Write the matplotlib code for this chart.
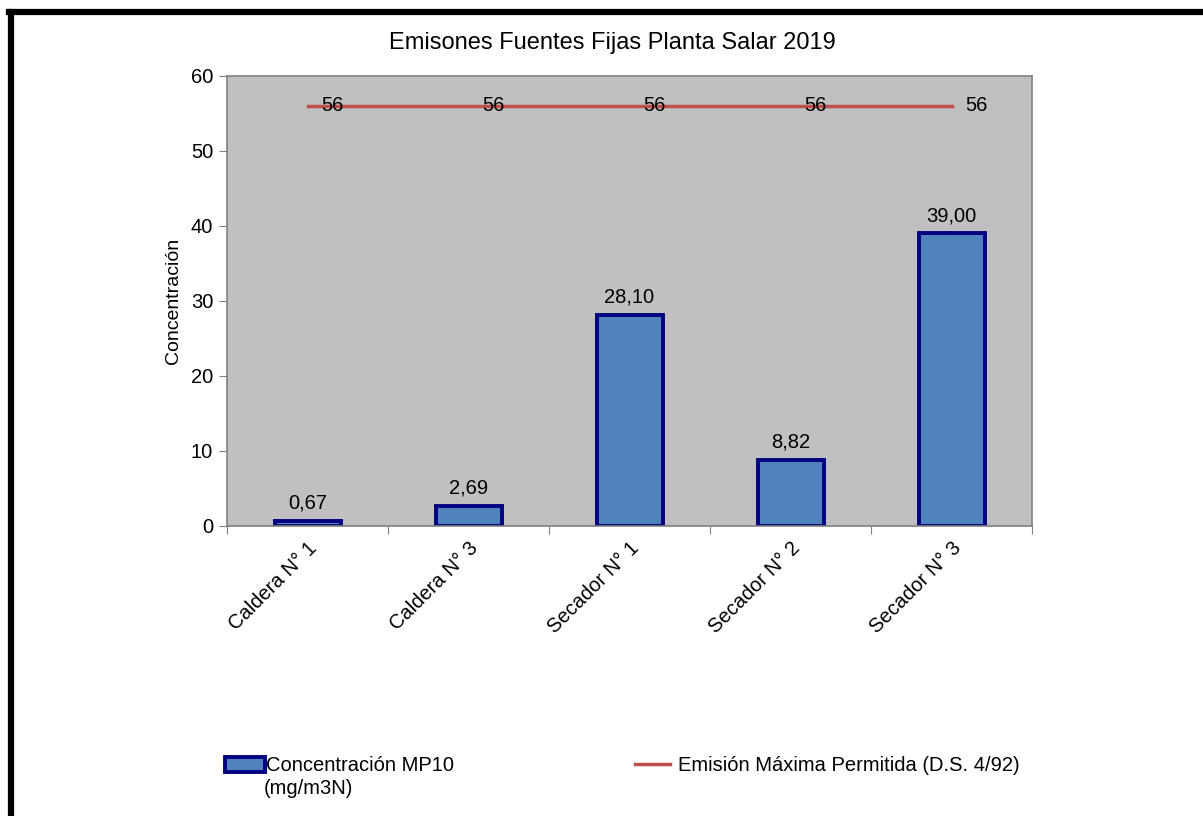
# Emisiones fuentes fijas - bar chart with max permitted emission line
import numpy as np
import matplotlib.pyplot as plt
from matplotlib.lines import Line2D
from matplotlib.patches import Patch

plt.rcParams['font.family'] = ['Liberation Sans', 'DejaVu Sans']

# Data
categories = ['Caldera N° 1', 'Caldera N° 3', 'Secador N° 1', 'Secador N° 2', 'Secador N° 3']
concentracion = [0.67, 2.69, 28.10, 8.82, 39.00]
limite = [56, 56, 56, 56, 56]
bar_labels = ['0,67', '2,69', '28,10', '8,82', '39,00']

FS = 14.5

fig = plt.figure(figsize=(12.03, 8.16), dpi=100)
ax = fig.add_axes([0.1887, 0.3554, 0.6692, 0.5515])
ax.set_facecolor('#C0C0C0')

x = np.arange(len(categories))
ax.bar(x, concentracion, width=0.41, color='#4F81BD', edgecolor='#000080', linewidth=2.8, zorder=2)
ax.plot(x, limite, color='#C0504D', linewidth=2.5, zorder=3)

for xi, v, lab in zip(x, concentracion, bar_labels):
    ax.annotate(lab, (xi, v), xytext=(0, 6), textcoords='offset points',
                ha='center', va='bottom', fontsize=FS)
for xi, v in zip(x, limite):
    ax.annotate(str(v), (xi, v), xytext=(18, 0), textcoords='offset points',
                ha='center', va='center', fontsize=FS)

ax.set_xlim(-0.5, len(categories) - 0.5)
ax.set_ylim(0, 60)
ax.set_yticks(range(0, 61, 10))
ax.tick_params(axis='y', labelsize=FS, length=6, color='#808080', pad=4)

# boundary ticks as major, labels at centers as minor
ax.set_xticks(np.arange(-0.5, len(categories), 1.0))
ax.set_xticklabels([])
ax.tick_params(axis='x', which='major', length=6, color='#808080')
ax.set_xticks(x, minor=True)
ax.set_xticklabels(categories, minor=True, rotation=45, ha='right', va='top',
                   rotation_mode='anchor', fontsize=FS)
ax.tick_params(axis='x', which='minor', length=0, pad=9)

for s in ax.spines.values():
    s.set_color('#808080')
    s.set_linewidth(1.2)

ax.set_ylabel('Concentración', fontsize=14, labelpad=6)
fig.text(0.509, 0.947, 'Emisones Fuentes Fijas Planta Salar 2019', ha='center', va='center', fontsize=17)

# legends
h1 = Patch(facecolor='#4F81BD', edgecolor='#000080', linewidth=2.8)
fig.legend([h1], ['Concentración MP10'], loc='center left',
           bbox_to_anchor=(0.187, 0.0613), frameon=False, fontsize=FS,
           handlelength=2.0, handleheight=0.8, handletextpad=0.05, borderaxespad=0,
           borderpad=0)
fig.text(0.2195, 0.034, '(mg/m3N)', ha='left', va='center', fontsize=FS)
h2 = Line2D([0], [0], color='#C0504D', linewidth=2.5)
fig.legend([h2], ['Emisión Máxima Permitida (D.S. 4/92)'], loc='center left',
           bbox_to_anchor=(0.528, 0.0613), frameon=False, fontsize=FS,
           handlelength=1.75, handletextpad=0.4, borderaxespad=0, borderpad=0)

# outer black frame (extends past right and bottom edges)
fig.add_artist(Line2D([0.0078, 1.0], [0.9853, 0.9853], color='black', linewidth=4.5, transform=fig.transFigure))
fig.add_artist(Line2D([0.0092, 0.0092], [0.0, 0.9853], color='black', linewidth=4.5, transform=fig.transFigure))

fig.savefig('out.png', dpi=100)
